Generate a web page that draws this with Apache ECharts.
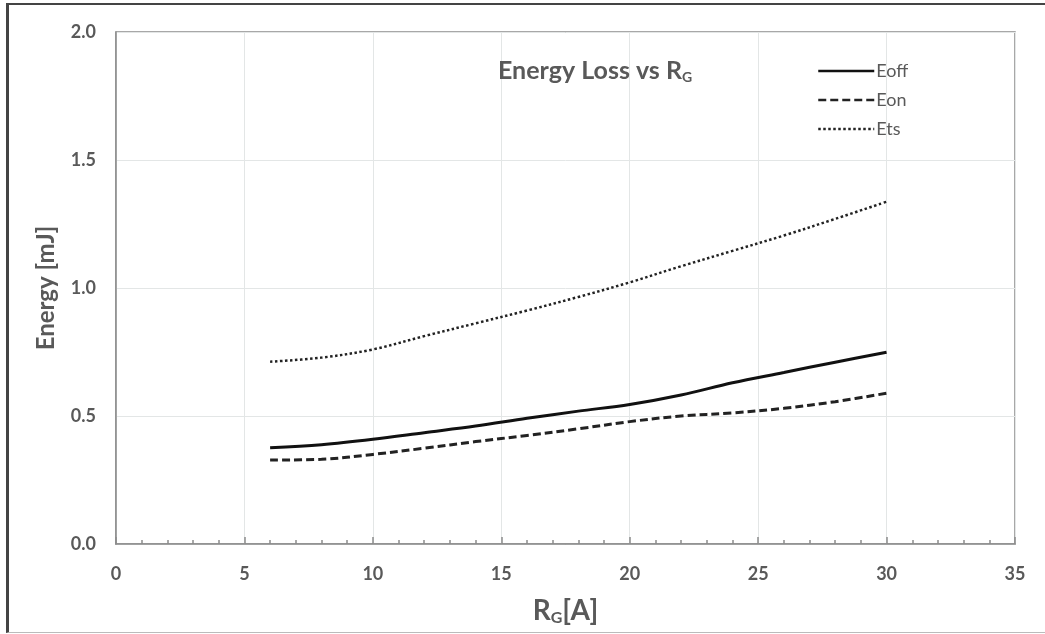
<!DOCTYPE html>
<html>
<head>
<meta charset="utf-8">
<script src="https://cdn.jsdelivr.net/npm/echarts@6/dist/echarts.min.js"></script>
<style>
  html, body { margin: 0; padding: 0; background: #fff; }
  #wrap { position: relative; width: 1045px; height: 634px; }
  #chart { position: absolute; left: 0; top: 0; width: 1045px; height: 634px; }
  #frame {
    position: absolute; left: 6px; top: 3px; right: 0; bottom: 1px;
    border-left: 3px solid #444; border-top: 2px solid #444; border-bottom: 1px solid #bbb;
    pointer-events: none;
  }
</style>
</head>
<body>
<div id="wrap">
  <div id="chart"></div>
  <div id="frame"></div>
</div>
<script>
// 数据 (读自图片)
const rg = [6, 8, 10, 12, 14, 16, 18, 20, 22, 24, 26, 28, 30];
const eoff = [0.376, 0.388, 0.409, 0.435, 0.461, 0.491, 0.519, 0.545, 0.582, 0.630, 0.670, 0.710, 0.749];
const eon = [0.328, 0.331, 0.350, 0.374, 0.400, 0.424, 0.450, 0.478, 0.500, 0.512, 0.530, 0.556, 0.589];
const ets = [0.712, 0.728, 0.760, 0.812, 0.862, 0.912, 0.965, 1.022, 1.085, 1.145, 1.205, 1.270, 1.337];
const seriesNames = ['Eoff', 'Eon', 'Ets'];
const xTicks = { min: 0, max: 35, step: 5 };
const yTicks = { min: 0, max: 2, step: 0.5 };

const FONT = 'Lato, "Open Sans", sans-serif';
const GREY = '#595959';

const chart = echarts.init(document.getElementById('chart'));

const pairs = (ys) => rg.map((x, i) => [x, ys[i]]);

const lineStyles = [
  { type: 'solid', width: 3, color: '#111' },
  { type: [8, 4], width: 3, color: '#222' },
  { type: [2.5, 2.5], width: 2.5, color: '#222' },
];

const option = {
  backgroundColor: '#fff',
  animation: false,
  title: {
    text: 'Energy Loss vs {sub|R}{g|G}',
    left: 493,
    top: 52,
    textStyle: {
      fontFamily: FONT, fontSize: 25, fontWeight: 'bold', color: GREY,
      rich: {
        sub: { fontFamily: FONT, fontSize: 25, fontWeight: 'bold', color: GREY },
        g: { fontFamily: FONT, fontSize: 14, fontWeight: 'bold', color: GREY, padding: [13, 0, 0, 0] },
      },
    },
  },
  legend: {
    orient: 'vertical',
    left: 812,
    top: 57,
    itemWidth: 56,
    itemHeight: 16,
    itemGap: 11,
    data: seriesNames,
    itemStyle: { opacity: 0 },
    lineStyle: { width: 2.5 },
    textStyle: { fontFamily: FONT, fontSize: 18, color: GREY, padding: [0, 0, 0, -3] },
  },
  grid: {
    left: 116, right: 30, top: 32, bottom: 90,
    show: true, borderColor: '#8c8c8c', borderWidth: 1.5,
  },
  xAxis: {
    type: 'value',
    min: xTicks.min, max: xTicks.max, interval: xTicks.step,
    name: '{r|R}{g|G}{r|[A]}',
    nameLocation: 'middle',
    nameGap: 52,
    nameTextStyle: {
      rich: {
        r: { fontFamily: FONT, fontSize: 28, fontWeight: 'bold', color: GREY },
        g: { fontFamily: FONT, fontSize: 16, fontWeight: 'bold', color: GREY, padding: [14, 0, 0, 0] },
      },
    },
    axisLine: { show: true, lineStyle: { color: '#8c8c8c', width: 1.5 } },
    axisTick: { show: true, inside: true, length: 7, lineStyle: { color: '#8c8c8c', width: 1.5 } },
    minorTick: { show: true, splitNumber: 5, length: 4, lineStyle: { color: '#8c8c8c', width: 1.5 } },
    axisLabel: { fontFamily: FONT, fontSize: 18, fontWeight: 'bold', color: GREY, margin: 21 },
    splitLine: { show: true, lineStyle: { color: '#e3e6e6', width: 1 } },
  },
  yAxis: {
    type: 'value',
    min: yTicks.min, max: yTicks.max, interval: yTicks.step,
    name: 'Energy [mJ]',
    nameLocation: 'middle',
    nameGap: 58,
    nameTextStyle: { fontFamily: FONT, fontSize: 24, fontWeight: 'bold', color: GREY },
    axisLine: { show: true, lineStyle: { color: '#8c8c8c', width: 1.5 } },
    axisTick: { show: false },
    axisLabel: {
      fontFamily: FONT, fontSize: 18, fontWeight: 'bold', color: GREY, margin: 20,
      formatter: (v) => v.toFixed(1),
    },
    splitLine: { show: true, lineStyle: { color: '#e3e6e6', width: 1 } },
  },
  series: [eoff, eon, ets].map((ys, i) => ({
    name: seriesNames[i],
    type: 'line',
    data: pairs(ys),
    smooth: 0.35,
    symbol: 'none',
    itemStyle: { color: lineStyles[i].color },
    lineStyle: lineStyles[i],
  })),
};

chart.setOption(option);
</script>
</body>
</html>
